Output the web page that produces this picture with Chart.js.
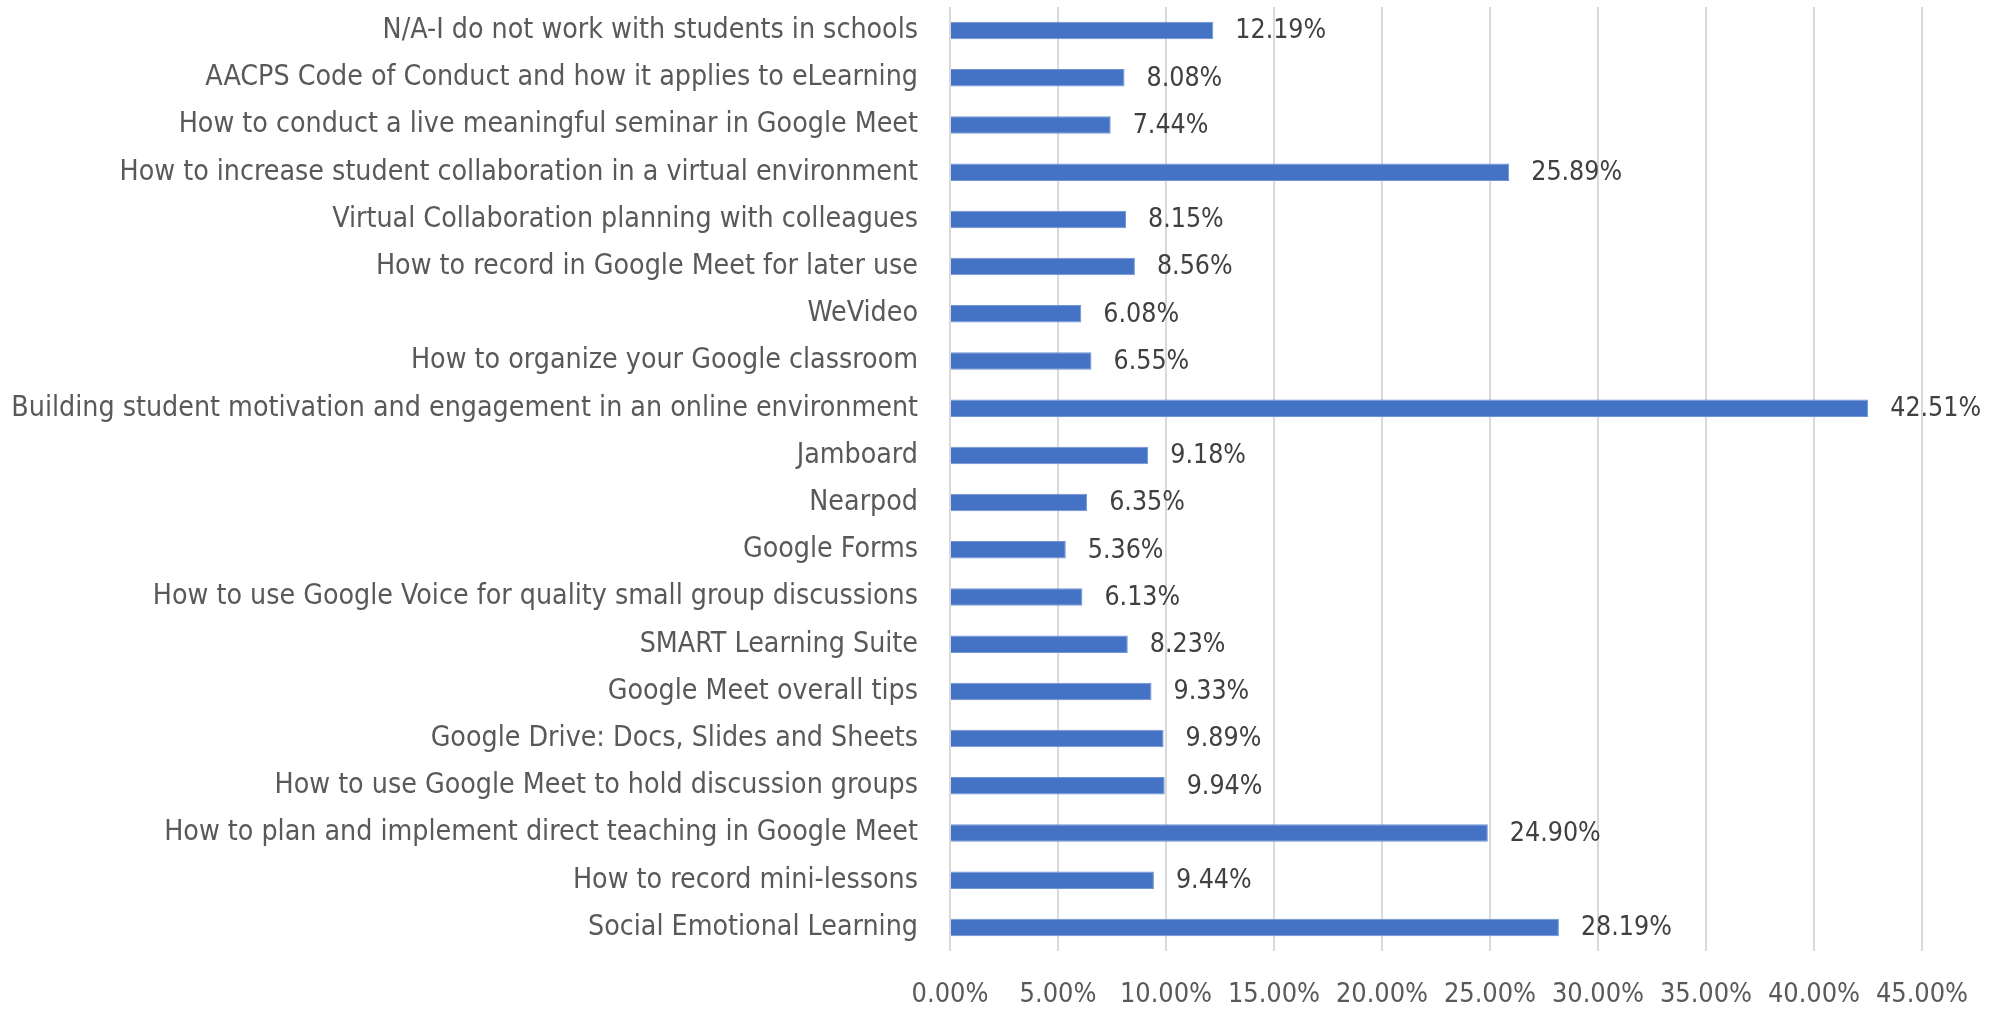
<!DOCTYPE html>
<html>
<head>
<meta charset="utf-8">
<script src="https://cdn.jsdelivr.net/npm/chart.js@4/dist/chart.umd.min.js"></script>
<style>
html,body{margin:0;padding:0;background:#fff;}
#wrap{width:2007px;height:1010px;position:relative;}
</style>
</head>
<body>
<div id="wrap"><canvas id="c" width="2007" height="1010"></canvas></div>
<script>
const categories = [
  "N/A-I do not work with students in schools",
  "AACPS Code of Conduct and how it applies to eLearning",
  "How to conduct a live meaningful seminar in Google Meet",
  "How to increase student collaboration in a virtual environment",
  "Virtual Collaboration planning with colleagues",
  "How to record in Google Meet for later use",
  "WeVideo",
  "How to organize your Google classroom",
  "Building student motivation and engagement in an online environment",
  "Jamboard",
  "Nearpod",
  "Google Forms",
  "How to use Google Voice for quality small group discussions",
  "SMART Learning Suite",
  "Google Meet overall tips",
  "Google Drive: Docs, Slides and Sheets",
  "How to use Google Meet to hold discussion groups",
  "How to plan and implement direct teaching in Google Meet",
  "How to record mini-lessons",
  "Social Emotional Learning"
];
const percentValues = [12.19, 8.08, 7.44, 25.89, 8.15, 8.56, 6.08, 6.55, 42.51, 9.18, 6.35, 5.36, 6.13, 8.23, 9.33, 9.89, 9.94, 24.90, 9.44, 28.19];
const axisMin = 0;
const axisMax = 45;
const axisStep = 5;

const FAMILY = "'Liberation Sans Narrow', 'DejaVu Sans Condensed', 'Roboto', sans-serif";

// fit font sizes to the reference text widths
const mctx = document.createElement('canvas').getContext('2d');
function fitSize(text, width) {
  mctx.font = "100px " + FAMILY;
  return Math.round(100 * width / mctx.measureText(text).width * 10) / 10;
}
const catSize = fitSize("Building student motivation and engagement in an online environment", 906);
const tickSize = fitSize("0.00%", 77);
const valSize = fitSize("42.51%", 91);

const valueLabels = {
  id: 'valueLabels',
  afterDatasetsDraw(chart) {
    const ctx = chart.ctx;
    const meta = chart.getDatasetMeta(0);
    ctx.save();
    ctx.font = valSize + "px " + FAMILY;
    ctx.fillStyle = "#404040";
    ctx.textAlign = "left";
    ctx.textBaseline = "middle";
    meta.data.forEach((bar, i) => {
      ctx.fillText(percentValues[i].toFixed(2) + "%", bar.x + 22, bar.y + 1);
    });
    ctx.restore();
  }
};

new Chart(document.getElementById('c'), {
  type: 'bar',
  data: {
    labels: categories,
    datasets: [{
      data: percentValues,
      backgroundColor: '#4472C4',
      borderColor: '#6f93d3',
      borderWidth: 1,
      categoryPercentage: 1,
      barPercentage: 0.37
    }]
  },
  options: {
    indexAxis: 'y',
    responsive: false,
    animation: false,
    devicePixelRatio: 1,
    layout: { padding: { top: 7, right: 85, left: 0, bottom: 0 } },
    plugins: { legend: { display: false }, tooltip: { enabled: false } },
    scales: {
      x: {
        min: axisMin,
        max: axisMax,
        ticks: {
          stepSize: axisStep,
          color: '#595959',
          font: { family: FAMILY, size: tickSize },
          padding: 28,
          maxRotation: 0,
          autoSkip: false,
          callback: v => Number(v).toFixed(2) + '%'
        },
        grid: { color: '#d9d9d9', lineWidth: 2, drawTicks: false },
        border: { display: false },
        afterFit(scale) { scale.height = 59; scale.paddingLeft = 0; scale.paddingRight = 0; }
      },
      y: {
        ticks: {
          color: '#595959',
          font: { family: FAMILY, size: catSize },
          padding: 32,
          autoSkip: false
        },
        grid: { display: false, drawTicks: false },
        border: { display: false },
        afterFit(scale) { scale.width = 950; scale.paddingTop = 0; scale.paddingBottom = 0; }
      }
    }
  },
  plugins: [valueLabels]
});
</script>
</body>
</html>
